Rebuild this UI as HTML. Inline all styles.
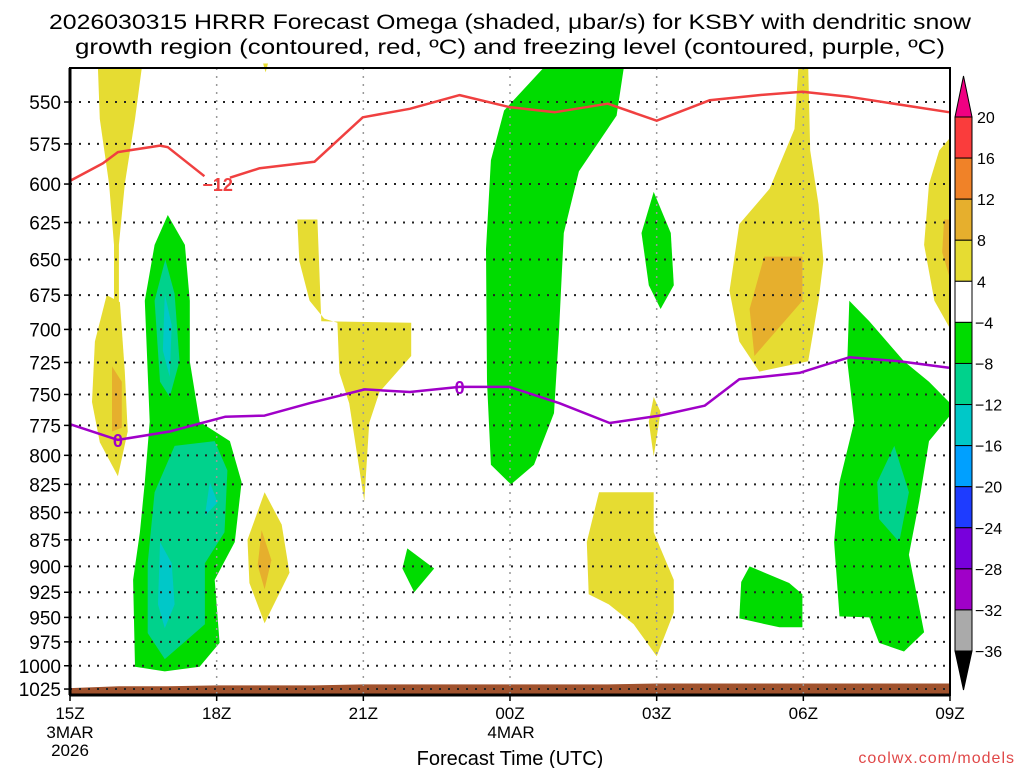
<!DOCTYPE html>
<html><head><meta charset="utf-8"><style>
body{margin:0;background:#fff;}
svg{display:block;font-family:"Liberation Sans",sans-serif;}
</style></head><body>
<svg id="chart" width="1024" height="768" viewBox="0 0 1024 768" xmlns="http://www.w3.org/2000/svg">
<text x="510" y="29" font-size="21" text-anchor="middle" textLength="922" lengthAdjust="spacingAndGlyphs">2026030315 HRRR Forecast Omega (shaded, μbar/s) for KSBY with dendritic snow</text>
<text x="510" y="54" font-size="21" text-anchor="middle" textLength="870" lengthAdjust="spacingAndGlyphs">growth region (contoured, red, ºC) and freezing level (contoured, purple, ºC)</text>
<g id="fills"></g>
<g id="grid"></g>
<g id="lines"></g>
<g id="axes"></g>
<g id="cbar"></g>
<text x="510" y="765" font-size="20" text-anchor="middle">Forecast Time (UTC)</text>
<text x="1015" y="763" font-size="16" fill="#e04848" text-anchor="end" letter-spacing="1">coolwx.com/models</text>
</svg>
<script>
const NS="http://www.w3.org/2000/svg";
const pressureTicks=[550,575,600,625,650,675,700,725,750,775,800,825,850,875,900,925,950,975,1000,1025];
const timeTicks=[0,3,6,9,12,15,18];
const timeLabels=["15Z","18Z","21Z","00Z","03Z","06Z","09Z"];
const cbarLevels=[20,16,12,8,4,-4,-8,-12,-16,-20,-24,-28,-32,-36];
const cbarColors=["#fa3c3c","#f08228","#e6af2d","#e6dc32","#ffffff","#00dc00","#00d28c","#00c8c8","#00a0ff","#1e3cff","#7800dc","#a000c8","#aaaaaa"];
const yellowA=[[0.57,530],[1.47,530],[1.33,560],[1.12,600],[1.0,640],[1.0,680],[0.9,680],[0.9,640],[0.8,600],[0.61,560]];
const yellowB=[[0.75,675],[1.02,680],[1.12,732],[1.18,780],[0.98,818],[0.61,789],[0.45,756],[0.51,709]];
const orangeB=[[0.86,728],[1.06,740],[1.06,777],[0.86,780]];
const greenL=[[2.0,620],[2.35,640],[2.45,679],[2.45,724],[2.65,772],[3.27,788],[3.51,823],[3.37,877],[2.96,913],[3.06,976],[2.65,1001],[1.94,1006],[1.33,1001],[1.29,913],[1.43,868],[1.53,823],[1.63,772],[1.53,679],[1.73,640]];
const tealL1=[[1.95,650],[2.14,674],[2.24,724],[2.04,752],[1.84,740],[1.73,679]];
const cyanL1=[[1.94,674],[2.08,697],[2.04,736],[1.9,716]];
const tealL2=[[2.14,792],[2.96,788],[3.22,813],[3.16,868],[2.76,897],[2.76,957],[1.94,993],[1.59,966],[1.59,897],[1.73,832]];
const cyanL2=[[2.86,823],[3.02,841],[2.76,853]];
const cyanL3=[[1.84,877],[2.08,897],[2.14,937],[1.94,961],[1.8,937]];
const greenC=[[9.7,530],[11.33,530],[11.18,558],[10.41,592],[10.1,632],[10.0,703],[9.9,765],[9.49,808],[9.02,825],[8.61,808],[8.53,740],[8.51,643],[8.61,585],[8.88,555]];
const green03=[[11.94,605],[12.29,632],[12.35,668],[12.08,685],[11.84,668],[11.69,632]];
const yellow03=[[11.94,752],[12.08,764],[11.94,801],[11.84,772]];
const yellowC1=[[4.65,623],[5.06,623],[5.14,694],[6.98,695],[6.98,720],[6.33,748],[6.12,773],[6.02,840],[5.71,757],[5.51,733],[5.47,695],[5.2,692],[4.9,679],[4.69,651]];
const yellowC0=[[3.95,528],[4.05,528],[4.0,533]];
const yellowC2=[[3.98,832],[4.33,861],[4.49,906],[3.98,956],[3.67,916],[3.63,875]];
const orangeC2=[[3.92,866],[4.12,894],[3.98,922],[3.84,899]];
const green22=[[6.9,883],[7.45,902],[7.04,925],[6.8,902]];
const yellow02=[[10.82,832],[11.94,832],[11.94,868],[12.35,913],[12.35,945],[12.0,990],[11.53,957],[11.02,937],[10.61,927],[10.57,877]];
const yellow05=[[14.9,530],[15.1,530],[15.14,579],[15.31,613],[15.41,651],[15.31,679],[15.1,724],[14.1,732],[13.69,709],[13.49,672],[13.69,626],[14.31,603],[14.82,566]];
const orange05=[[14.2,648],[14.98,648],[14.98,679],[14.0,720],[13.9,685]];
const green05=[[13.9,900],[14.71,916],[14.98,927],[14.98,960],[14.51,960],[13.69,951],[13.73,915]];
const greenR=[[15.94,679],[16.35,694],[17.06,724],[17.57,740],[17.98,756],[17.98,768],[17.57,788],[17.37,840],[17.16,889],[17.47,965],[17.06,985],[16.55,976],[16.35,950],[15.74,949],[15.63,877],[15.74,823],[16.04,772],[15.9,724]];
const tealR=[[16.86,792],[17.16,832],[16.96,877],[16.55,856],[16.51,823]];
const yellowR=[[17.78,579],[17.98,572],[17.98,698],[17.68,679],[17.47,640],[17.57,600]];
const orangeR=[[17.88,623],[17.98,623],[17.98,661],[17.84,645]];
const redHours1=[0,0.67,0.98,1.84,2.0,2.75];
const redPres1=[598,587,580,576,577,595];
const redHours2=[3.27,3.88,5.0,5.99,6.95,7.97,8.99,9.92,11.0,12.0,13.08,14.1,14.98,15.94,17.98];
const redPres2=[596,590,586,559,554,546,553,556,551,561,549,546,544,547,556];
const purpleHours=[0,0.98,2.04,3.17,3.98,4.9,6.03,6.95,7.97,8.99,10.01,11.04,12.06,12.98,13.69,14.92,15.43,15.94,16.96,17.98];
const purplePres=[774,787,780,768,767,757,746,748,744,744,757,773,767,759,738,733,727,721,724,729];
const surfaceHours=[0,1,2,3,4,5,6,7,8,9,10,11,12,13,14,15,16,17,18];
const surfacePres=[1024,1022,1022,1021,1021,1021,1020,1020,1020,1020,1020,1020,1019,1019,1019,1019,1019,1019,1019];

const X0=70,X1=950,YT=68,YB=695;
const xs=h=>X0+h*(X1-X0)/18;
const ys=p=>102+943*Math.log(p/550);
function el(tag,attrs,parent){const e=document.createElementNS(NS,tag);for(const k in attrs)e.setAttribute(k,attrs[k]);parent.appendChild(e);return e;}
const fills=document.getElementById('fills');
function poly(data,color,name){
  const e=el('polygon',{points:data.map(d=>xs(d[0]).toFixed(1)+','+ys(d[1]).toFixed(1)).join(' '),fill:color},fills);
  
  
}
const Y="#e6dc32",O="#e6af2d",G="#00dc00",T="#00d28c",C="#00c8c8";
poly(yellowA,Y,'omega-4to8-a');poly(yellowB,Y,'omega-4to8-b');poly(orangeB,O,'omega-8to12-b');
poly(greenL,G,'omega-neg4-left');poly(tealL1,T,'omega-neg8-left-upper');poly(cyanL1,C,'omega-neg12-left-upper');
poly(tealL2,T,'omega-neg8-left-lower');poly(cyanL2,C,'omega-neg12-left-lower-a');poly(cyanL3,C,'omega-neg12-left-lower-b');
poly(greenC,G,'omega-neg4-center');poly(green03,G,'omega-neg4-03z');poly(yellow03,Y,'omega-4to8-03z');
poly(yellowC0,Y,'omega-4to8-top');poly(yellowC1,Y,'omega-4to8-21z');poly(yellowC2,Y,'omega-4to8-19z');poly(orangeC2,O,'omega-8to12-19z');
poly(green22,G,'omega-neg4-22z');poly(yellow02,Y,'omega-4to8-02z');poly(yellow05,Y,'omega-4to8-05z');poly(orange05,O,'omega-8to12-05z');
poly(green05,G,'omega-neg4-05z');poly(greenR,G,'omega-neg4-right');poly(tealR,T,'omega-neg8-right');
poly(yellowR,Y,'omega-4to8-right');poly(orangeR,O,'omega-8to12-right');
let tp=surfaceHours.map((h,i)=>xs(h).toFixed(1)+','+ys(surfacePres[i]).toFixed(1));
tp.push(X1+','+YB,X0+','+YB);
const terr=el('polygon',{points:tp.join(' '),fill:'#a0522d'},fills);


const grid=document.getElementById('grid');
pressureTicks.forEach(p=>{
  const g=el('line',{x1:X0,x2:X1,y1:ys(p),y2:ys(p),stroke:'#222','stroke-width':2,'stroke-dasharray':'2 7'},grid);
  
  
});
timeTicks.forEach(h=>{
  if(h===0||h===18)return;
  const g=el('line',{x1:xs(h),x2:xs(h),y1:YT,y2:YB,stroke:'#999','stroke-width':1.5,'stroke-dasharray':'2 6'},grid);
  
  
});
const lines=document.getElementById('lines');
function pl(hs,ps,color,name){
  const e=el('polyline',{points:hs.map((h,i)=>xs(h).toFixed(1)+','+ys(ps[i]).toFixed(1)).join(' '),fill:'none',stroke:color,'stroke-width':2.5,'stroke-linejoin':'round'},lines);
  
  
}
pl(redHours1,redPres1,'#f04040','dgz-contour-a');
pl(redHours2,redPres2,'#f04040','dgz-contour-b');
pl(purpleHours,purplePres,'#a000c8','freezing-level-contour');
function lab(h,p,t,c,name){
  const e=el('text',{x:xs(h),y:ys(p)+7,'font-size':18,'font-weight':'bold',fill:c,'text-anchor':'middle'},lines);
  e.textContent=t;
  
  
}
lab(3.02,600,'−12','#f04040','dgz-label');
lab(0.98,787,'0','#a000c8','freezing-label-1');
lab(7.97,744,'0','#a000c8','freezing-label-2');
const axes=document.getElementById('axes');
const fr=el('rect',{x:X0,y:YT,width:X1-X0,height:YB-YT,fill:'none',stroke:'#000','stroke-width':2},axes);


el('line',{x1:X0,x2:X0,y1:YT,y2:YB,stroke:'#000','stroke-width':3},axes);
el('line',{x1:X0,x2:X1,y1:YB,y2:YB,stroke:'#000','stroke-width':3},axes);
pressureTicks.forEach(p=>{
  el('line',{x1:X0-6,x2:X0,y1:ys(p),y2:ys(p),stroke:'#000','stroke-width':1.5},axes);
  const t=el('text',{x:61,y:ys(p)+7,'font-size':19,'text-anchor':'end'},axes);
  t.textContent=p;
  
  
});
timeTicks.forEach((h,i)=>{
  el('line',{x1:xs(h),x2:xs(h),y1:YB,y2:YB+6,stroke:'#000','stroke-width':1.5},axes);
  const t=el('text',{x:xs(h),y:719,'font-size':17,'text-anchor':'middle'},axes);
  t.textContent=timeLabels[i];
  
  
});
[['3MAR',70,738],['2026',70,756],['4MAR',511,738]].forEach(d=>{
  const t=el('text',{x:d[1],y:d[2],'font-size':17,'text-anchor':'middle'},axes);
  t.textContent=d[0];
  
  
});
const cb=document.getElementById('cbar');
const CX=955,CW=17,cy=i=>117+i*(651-117)/13;
cbarColors.forEach((c,i)=>{
  const r=el('rect',{x:CX,y:cy(i),width:CW,height:cy(i+1)-cy(i),fill:c,stroke:'#000','stroke-width':1},cb);
  
  
});
el('polygon',{points:`${CX},117 ${CX+CW},117 ${CX+CW/2},76`,fill:'#f00082',stroke:'#000'},cb);
el('polygon',{points:`${CX},651 ${CX+CW},651 ${CX+CW/2},690`,fill:'#000',stroke:'#000'},cb);
cbarLevels.forEach((v,i)=>{
  const t=el('text',{x:CX+CW+(v<0?3:5),y:cy(i)+6,'font-size':16},cb);
  t.textContent=(v<0?'−':'')+Math.abs(v);
  
  
});
</script>
</body></html>
